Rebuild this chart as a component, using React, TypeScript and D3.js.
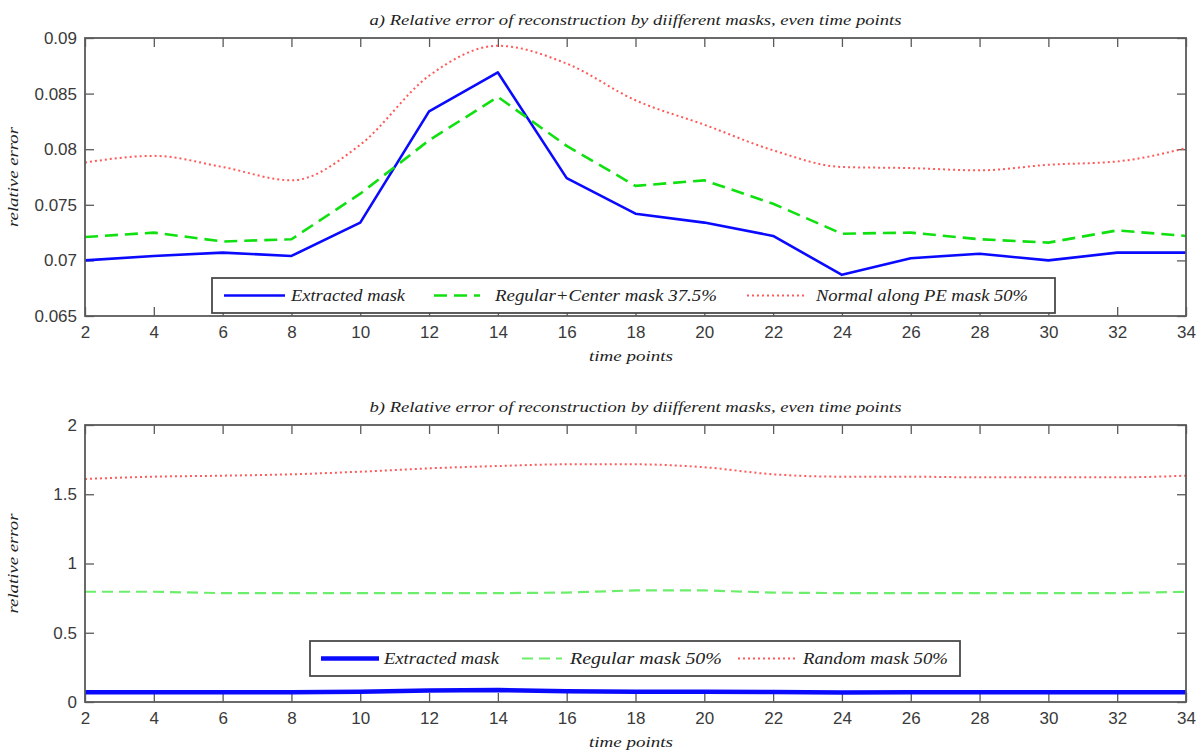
import React, { useRef, useEffect } from 'react';
import * as d3 from 'd3';

// time points (even only)
const timePoints = [2, 4, 6, 8, 10, 12, 14, 16, 18, 20, 22, 24, 26, 28, 30, 32, 34];

// panel a
const extractedA = [0.0700, 0.0704, 0.0707, 0.0704, 0.0734, 0.0834, 0.0869, 0.0774, 0.0742, 0.0734, 0.0722, 0.0687, 0.0702, 0.0706, 0.0700, 0.0707, 0.0707];
const regularCenterA = [0.0721, 0.0725, 0.0717, 0.0719, 0.0760, 0.0808, 0.0847, 0.0803, 0.0767, 0.0772, 0.0751, 0.0724, 0.0725, 0.0719, 0.0716, 0.0727, 0.0722];
const normalPEA = [0.0788, 0.0794, 0.0784, 0.0772, 0.0804, 0.0866, 0.0893, 0.0877, 0.0844, 0.0822, 0.0799, 0.0784, 0.0783, 0.0781, 0.0786, 0.0789, 0.0801];

// panel b
const extractedB = [0.0700, 0.0704, 0.0707, 0.0704, 0.0734, 0.0834, 0.0869, 0.0774, 0.0742, 0.0734, 0.0722, 0.0687, 0.0702, 0.0706, 0.0700, 0.0707, 0.0707];
const regularB = [0.796, 0.796, 0.786, 0.786, 0.786, 0.786, 0.786, 0.790, 0.806, 0.806, 0.790, 0.786, 0.786, 0.786, 0.786, 0.786, 0.796];
const randomB = [1.610, 1.627, 1.634, 1.644, 1.663, 1.687, 1.704, 1.716, 1.716, 1.695, 1.644, 1.627, 1.627, 1.622, 1.622, 1.622, 1.634];

const xTicks = [2, 4, 6, 8, 10, 12, 14, 16, 18, 20, 22, 24, 26, 28, 30, 32, 34];
const yTicksA = [0.065, 0.07, 0.075, 0.08, 0.085, 0.09];
const yTicksB = [0, 0.5, 1, 1.5, 2];

const labelsA = ['Extracted mask', 'Regular+Center mask 37.5%', 'Normal along PE mask 50%'];
const labelsB = ['Extracted mask', 'Regular mask 50%', 'Random mask 50%'];
const titleA = 'a) Relative error of reconstruction by diifferent masks, even time points';
const titleB = 'b) Relative error of reconstruction by diifferent masks, even time points';

const W = 1203, H = 753;
const LEFT = 85, RIGHT = 1186;
const AXIS_COLOR = '#5a5a5a';
const TEXT_COLOR = '#3a3a3a';
const SANS = '"Liberation Sans", Arial, sans-serif';
const SERIF = '"Liberation Serif", "Times New Roman", serif';

function drawPanel(svg, cfg) {
    const x = d3.scaleLinear().domain([2, 34]).range([LEFT, RIGHT]);
    const y = d3.scaleLinear().domain(cfg.yDomain).range([cfg.bottom, cfg.top]);
    const g = svg.append('g');

    // title
    g.append('text')
        .attr('x', (LEFT + RIGHT) / 2)
        .attr('y', cfg.top - 13)
        .attr('text-anchor', 'middle')
        .attr('textLength', 532)
        .attr('lengthAdjust', 'spacingAndGlyphs')
        .style('font-family', SERIF)
        .style('font-style', 'italic')
        .style('font-size', '14px')
        .style('fill', '#222')
        .text(cfg.title);

    // axes, ticks pointing inward
    const styleAxis = (sel) => {
        sel.select('.domain').remove();
        sel.selectAll('line').attr('stroke', AXIS_COLOR).attr('stroke-width', 1.3);
        sel.selectAll('text')
            .style('font-family', SANS)
            .style('font-size', '17px')
            .style('fill', TEXT_COLOR);
    };

    g.append('g')
        .attr('transform', `translate(0,${cfg.bottom})`)
        .call(d3.axisBottom(x).tickValues(xTicks).tickSizeInner(-9).tickSizeOuter(0).tickPadding(10).tickFormat(d => String(d)))
        .call(styleAxis);
    g.append('g')
        .attr('transform', `translate(0,${cfg.top})`)
        .call(d3.axisTop(x).tickValues(xTicks).tickSizeInner(-9).tickSizeOuter(0).tickFormat(() => ''))
        .call(styleAxis);
    g.append('g')
        .attr('transform', `translate(${LEFT},0)`)
        .call(d3.axisLeft(y).tickValues(cfg.yTicks).tickSizeInner(-9).tickSizeOuter(0).tickPadding(8).tickFormat(d => String(d)))
        .call(styleAxis);
    g.append('g')
        .attr('transform', `translate(${RIGHT},0)`)
        .call(d3.axisRight(y).tickValues(cfg.yTicks).tickSizeInner(-9).tickSizeOuter(0).tickFormat(() => ''))
        .call(styleAxis);

    // series
    cfg.series.forEach(s => {
        const line = d3.line()
            .x((d, i) => x(timePoints[i]))
            .y(d => y(d))
            .curve(s.curve || d3.curveLinear);
        g.append('path')
            .datum(s.values)
            .attr('fill', 'none')
            .attr('stroke', s.color)
            .attr('stroke-width', s.width)
            .attr('stroke-dasharray', s.dash || null)
            .attr('stroke-linejoin', 'round')
            .attr('d', line);
    });

    // box
    g.append('rect')
        .attr('x', LEFT).attr('y', cfg.top)
        .attr('width', RIGHT - LEFT).attr('height', cfg.bottom - cfg.top)
        .attr('fill', 'none')
        .attr('stroke', AXIS_COLOR)
        .attr('stroke-width', 1.8);

    // legend
    const lg = cfg.legend;
    g.append('rect')
        .attr('x', lg.x).attr('y', lg.y)
        .attr('width', lg.w).attr('height', lg.h)
        .attr('fill', 'white')
        .attr('stroke', '#4a4a4a')
        .attr('stroke-width', 1.8);
    const cy = lg.y + lg.h / 2;
    lg.items.forEach((it, i) => {
        const s = cfg.series[i];
        g.append('line')
            .attr('x1', it.x1).attr('x2', it.x2)
            .attr('y1', cy).attr('y2', cy)
            .attr('stroke', s.color)
            .attr('stroke-width', s.width)
            .attr('stroke-dasharray', s.dash || null);
        g.append('text')
            .attr('x', it.tx)
            .attr('y', cy + 5)
            .attr('textLength', it.tw)
            .attr('lengthAdjust', 'spacingAndGlyphs')
            .style('font-family', SERIF)
            .style('font-style', 'italic')
            .style('font-size', '16px')
            .style('fill', '#222')
            .text(cfg.labels[i]);
    });

    // axis titles
    g.append('text')
        .attr('transform', `translate(18,${(cfg.top + cfg.bottom) / 2}) rotate(-90)`)
        .attr('text-anchor', 'middle')
        .attr('textLength', 100)
        .attr('lengthAdjust', 'spacingAndGlyphs')
        .style('font-family', SERIF)
        .style('font-style', 'italic')
        .style('font-size', '14px')
        .style('fill', '#222')
        .text('relative error');
    g.append('text')
        .attr('x', 631)
        .attr('y', cfg.bottom + 45)
        .attr('text-anchor', 'middle')
        .attr('textLength', 84)
        .attr('lengthAdjust', 'spacingAndGlyphs')
        .style('font-family', SERIF)
        .style('font-style', 'italic')
        .style('font-size', '14px')
        .style('fill', '#222')
        .text('time points');
}

export default function App() {
    const svgRef = useRef(null);

    useEffect(() => {
        const svg = d3.select(svgRef.current);
        svg.selectAll('*').remove();

        drawPanel(svg, {
            top: 38, bottom: 316,
            yDomain: [0.065, 0.09],
            yTicks: yTicksA,
            title: titleA,
            labels: labelsA,
            series: [
                { values: extractedA, color: '#0a0aff', width: 2.6 },
                { values: regularCenterA, color: '#10e010', width: 2.6, dash: '13,7' },
                { values: normalPEA, color: '#ff5a5a', width: 2, dash: '2,3', curve: d3.curveMonotoneX },
            ],
            legend: {
                x: 212, y: 278, w: 843, h: 35,
                items: [
                    { x1: 224, x2: 285, tx: 291, tw: 114 },
                    { x1: 434, x2: 480, tx: 495, tw: 222 },
                    { x1: 747, x2: 807, tx: 816, tw: 212 },
                ],
            },
        });

        drawPanel(svg, {
            top: 425, bottom: 702,
            yDomain: [0, 2],
            yTicks: yTicksB,
            title: titleB,
            labels: labelsB,
            series: [
                { values: extractedB, color: '#0a0aff', width: 4.5 },
                { values: regularB, color: '#6cee6c', width: 2.2, dash: '11,6' },
                { values: randomB, color: '#ff5a5a', width: 2, dash: '2,3', curve: d3.curveMonotoneX },
            ],
            legend: {
                x: 310, y: 641, w: 650, h: 35,
                items: [
                    { x1: 321, x2: 379, tx: 384, tw: 115 },
                    { x1: 522, x2: 562, tx: 570, tw: 152 },
                    { x1: 738, x2: 797, tx: 803, tw: 145 },
                ],
            },
        });
    }, []);

    return (
        <svg
            ref={svgRef}
            width={W}
            height={H}
            style={{ position: 'absolute', left: 0, top: 0, background: 'white' }}
        />
    );
}
